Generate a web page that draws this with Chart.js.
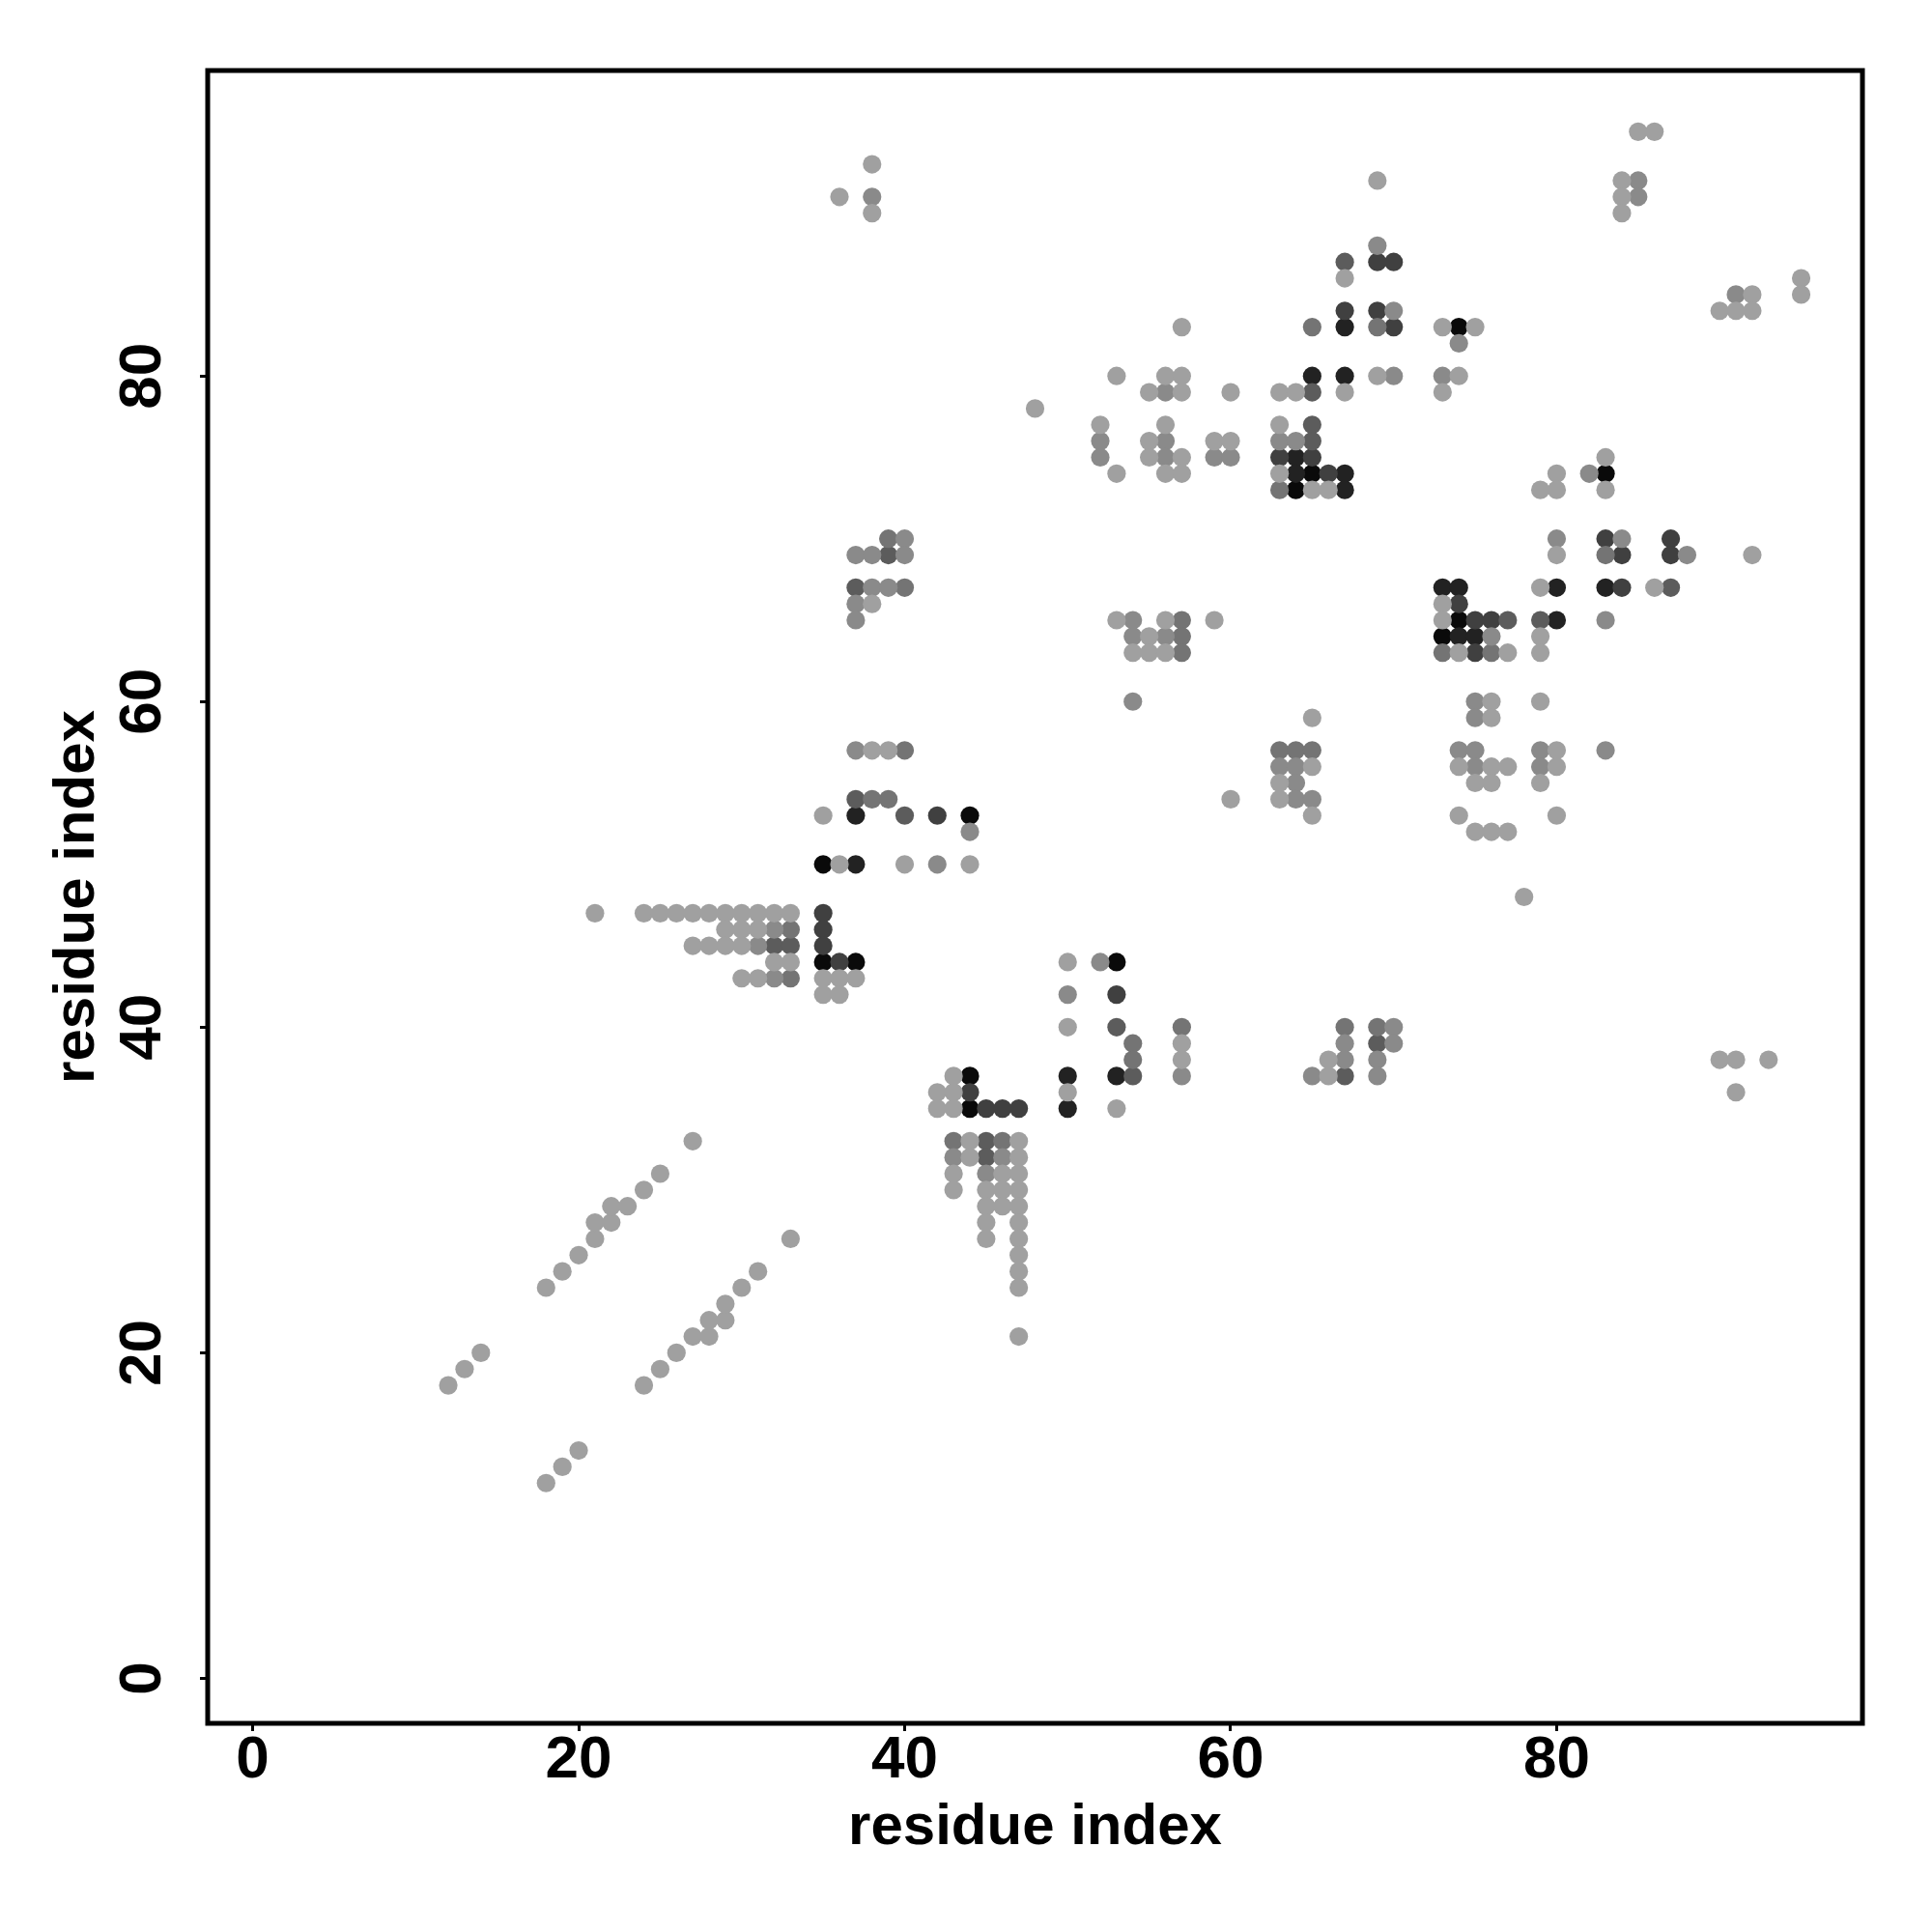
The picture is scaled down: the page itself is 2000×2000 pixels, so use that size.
<!DOCTYPE html>
<html>
<head>
<meta charset="utf-8">
<script src="https://cdn.jsdelivr.net/npm/chart.js@4"></script>
<style>
    body { margin: 0; background: #fff; }
    #wrap { width: 2000px; height: 2000px; }
</style>
</head>
<body>
<div id="wrap"><canvas id="contactMap" width="2000" height="2000"></canvas></div>
<script>
// residue pairs [i, j], grouped by contact level (1 = weakest, 7 = strongest)
const level1 = [
    [12,18],[13,19],[14,20],[18,24],[19,25],[20,26],[21,27],[21,28],[22,28],[22,29],[23,29],[24,30],[25,31],[27,33],
    [18,12],[19,13],[20,14],[24,18],[25,19],[26,20],[27,21],[28,21],[28,22],[29,22],[29,23],[30,24],[31,25],[33,27],
    [21,47],[24,47],[25,47],[26,47],[27,47],[28,47],[29,47],[30,47],[31,47],[32,47],[33,47],
    [29,46],[30,46],[31,46],[27,45],[28,45],[29,45],[30,45],[32,44],[33,44],[30,43],[31,43],
    [35,43],[36,43],[37,43],[35,42],[36,42],[36,50],[40,50],[44,50],[35,53],[38,57],[39,57],
    [38,93],[36,91],[38,90],[38,66],
    [43,37],[42,36],[43,36],[42,35],[43,35],[44,33],[47,33],[44,32],[47,32],[43,31],[46,31],[47,31],
    [43,30],[45,30],[46,30],[47,30],[45,29],[46,29],[47,29],[45,28],[47,28],[45,27],[47,27],
    [47,26],[47,25],[47,24],[47,21],
    [50,44],[50,40],[57,39],[57,38],[50,36],[53,35],
    [57,83],[53,80],[56,80],[57,80],[55,79],[57,79],[60,79],[48,78],[52,77],[56,77],[55,76],[59,76],[60,76],
    [55,75],[57,75],[53,74],[56,74],[57,74],[53,65],[56,65],[59,65],[55,64],[54,63],[55,63],[56,63],[60,54],
    [69,92],[67,86],[69,80],[63,79],[64,79],[67,79],[63,77],[63,74],[65,73],[66,73],
    [65,59],[65,56],[63,55],[63,54],[65,53],[66,38],[66,37],
    [83,75],[80,74],[79,73],[80,73],[83,73],[80,69],[92,69],[79,67],[86,67],[73,66],[73,65],[79,64],
    [74,63],[77,63],[79,63],[76,60],[79,60],[76,59],[80,57],[74,56],[76,56],[77,56],[80,56],
    [75,55],[76,55],[79,55],[74,53],[80,53],[75,52],[76,52],[77,52],[78,48],
    [85,95],[86,95],[84,92],[84,91],[84,90],[95,86],[95,85],[92,85],[90,84],[91,84],[92,84],
    [73,83],[75,83],[74,80],[73,79],
    [90,38],[91,38],[93,38],[91,36]
];
const level2 = [
    [32,46],[31,45],[32,43],[42,50],[44,52],[37,57],
    [38,91],[40,70],[37,69],[38,69],[40,69],[38,67],[39,67],[37,66],[37,65],
    [43,32],[46,32],[45,31],
    [52,44],[50,42],[57,37],
    [56,79],[52,76],[56,76],[52,75],[56,75],[59,75],[60,75],[54,65],[54,64],[56,64],[54,60],
    [69,88],[70,84],[70,80],[63,76],[64,76],
    [63,56],[64,56],[64,55],[64,54],[65,54],[70,40],[67,39],[70,39],[67,38],[69,38],[65,37],[69,37],
    [82,74],[80,70],[84,70],[88,69],[83,65],[76,64],[75,60],[75,59],[74,57],[75,57],[79,57],[83,57],[75,56],[79,56],
    [85,92],[85,91],[91,85],[74,82],[73,80]
];
const level3 = [
    [33,46],[33,43],[38,54],[39,54],[40,57],[39,70],[40,67],[43,33],[46,33],
    [57,40],[54,39],[54,38],[57,65],[57,64],[57,63],
    [65,83],[69,83],[63,73],[63,57],[64,57],[65,57],[67,40],[69,40],
    [83,69],[73,63],[76,63]
];
const level4 = [
    [32,45],[33,45],[40,53],[37,54],[39,69],[37,67],[45,33],[45,32],[53,40],[54,37],
    [67,87],[65,79],[65,77],[65,76],[69,39],[67,37],[87,67],[77,65],[79,65]
];
const level5 = [
    [35,47],[35,46],[35,45],[36,44],[42,53],[44,36],[45,35],[46,35],[47,35],[53,42],
    [69,87],[70,87],[67,84],[69,84],[70,83],[63,75],[65,75],[66,74],
    [83,70],[87,70],[84,69],[87,69],[84,67],[74,66],[75,65],[76,65],[75,63]
];
const level6 = [
    [37,50],[37,53],[50,37],[53,37],[50,35],
    [67,83],[65,80],[67,80],[64,75],[64,74],[67,74],[67,73],
    [73,67],[74,67],[80,67],[83,67],[80,65],[74,64],[75,64]
];
const level7 = [
    [35,44],[37,44],[35,50],[44,53],[44,37],[44,35],[53,44],
    [65,74],[64,73],[83,74],[74,65],[73,64],[74,83]
];

const levels = [level1, level2, level3, level4, level5, level6, level7];
const levelColors = ["#a0a0a0", "#8a8a8a", "#747474", "#5c5c5c", "#404040", "#222222", "#0a0a0a"];

const tickValues = [0, 20, 40, 60, 80];
const axisMin = -2.76;
const axisMax = 98.76;
const axisTitle = "residue index";

const fontFamily = "'Liberation Sans', Arial, sans-serif";

// black box round the plotting region
const frame = {
    id: "frame",
    afterDatasetsDraw(chart) {
        const { ctx, chartArea: a } = chart;
        ctx.save();
        ctx.strokeStyle = "#000";
        ctx.lineWidth = 5;
        ctx.strokeRect(a.left, a.top, a.right - a.left, a.bottom - a.top);
        ctx.restore();
    },
};

function axis(isX) {
    return {
        type: "linear",
        min: axisMin,
        max: axisMax,
        afterBuildTicks: (scale) => {
            scale.ticks = tickValues.map(v => ({ value: v }));
        },
        afterFit: (scale) => {
            if (isX) scale.height = 216;
            else scale.width = 215;
        },
        grid: {
            drawOnChartArea: false,
            drawTicks: true,
            tickLength: 8,
            tickWidth: 3,
            tickColor: "#000",
        },
        border: { display: false },
        ticks: {
            color: "#000",
            font: { family: fontFamily, size: 62, weight: "bold", lineHeight: 1 },
            padding: isX ? 0 : 24,
            minRotation: isX ? 0 : 90,
            maxRotation: isX ? 0 : 90,
            crossAlign: isX ? "near" : "center",
        },
        title: {
            display: true,
            text: axisTitle,
            color: "#000",
            font: { family: fontFamily, size: 60, weight: "bold", lineHeight: 1 },
            padding: isX ? { top: 0, bottom: 78 } : { top: 50, bottom: 0 },
        },
    };
}

const data = {
    datasets: levels.map((pts, k) => ({
        label: "level " + (k + 1),
        data: pts.map(([i, j]) => ({ x: i, y: j })),
        backgroundColor: levelColors[k],
        pointBackgroundColor: levelColors[k],
        pointBorderWidth: 0,
        pointRadius: 9.6,
        pointHoverRadius: 9.6,
    })),
};

const config = {
    type: "scatter",
    data: data,
    options: {
        responsive: false,
        animation: false,
        devicePixelRatio: 1,
        layout: { padding: { left: 0, top: 73, right: 72, bottom: 0 } },
        plugins: {
            legend: { display: false },
            tooltip: { enabled: false },
        },
        scales: {
            x: axis(true),
            y: axis(false),
        },
    },
    plugins: [frame],
};

const ctx = document.getElementById("contactMap").getContext("2d");
const contactChart = new Chart(ctx, config);
</script>
</body>
</html>
